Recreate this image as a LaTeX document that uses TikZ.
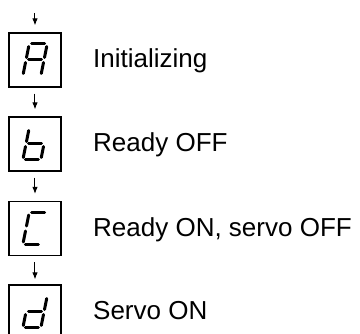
\documentclass[tikz,border=0pt]{standalone}
\usepackage{fontspec}
\setmainfont{Liberation Sans}
\usetikzlibrary{arrows.meta}
\tikzset{
  dispbox/.style={draw, line width=1.2pt, minimum width=52pt, minimum height=54pt, inner sep=0pt},
  arr/.style={line width=1pt, -{Latex[length=7pt,width=5.5pt]}},
  seg/.style={line width=3pt, line cap=round},
  lbl/.style={anchor=base west, inner sep=0pt, font=\fontsize{26}{30}\selectfont}
}
\newcommand{\segA}{\draw[seg] (-6.5,16)--(6.5,16);}
\newcommand{\segB}{\draw[seg] (9,13.5)--(9,2.5);}
\newcommand{\segC}{\draw[seg] (9,-2.5)--(9,-13.5);}
\newcommand{\segD}{\draw[seg] (-6.5,-16)--(6.5,-16);}
\newcommand{\segE}{\draw[seg] (-9,-2.5)--(-9,-13.5);}
\newcommand{\segF}{\draw[seg] (-9,13.5)--(-9,2.5);}
\newcommand{\segG}{\draw[seg] (-6.5,0)--(6.5,0);}
\begin{document}
\begin{tikzpicture}[x=1pt,y=1pt]
\clip (0,0) rectangle (360,334);
\useasboundingbox (0,0) rectangle (360,334);
\node[dispbox] (A) at (35,274) {};
\node[dispbox] (B) at (35,190) {};
\node[dispbox] (C) at (35,105.5) {};
\node[dispbox] (D) at (35,22) {};
\coordinate (top) at (35,321);
\begin{scope}[shift={(A.center)}, xslant=0.2]
\segA\segB\segC\segE\segF\segG
\end{scope}
\begin{scope}[shift={(B.center)}, xslant=0.2]
\segF\segE\segG\segC\segD
\end{scope}
\begin{scope}[shift={(C.center)}, xslant=0.2]
\segA\segF\segE\segD
\end{scope}
\begin{scope}[shift={(D.center)}, xslant=0.2]
\segB\segC\segG\segE\segD
\end{scope}
\draw[arr, shorten >=7pt] (top) -- (A);
\draw[arr, shorten <=6pt, shorten >=7pt] (A) -- (B);
\draw[arr, shorten <=6pt, shorten >=7pt] (B) -- (C);
\draw[arr, shorten <=6pt, shorten >=5pt] (C) -- (D);
\node[lbl] (tA) at (93,266) {Initializing};
\node[lbl] (tB) at (93,182) {Ready OFF};
\node[lbl] (tC) at (93,97.5) {Ready ON, servo OFF};
\node[lbl] (tD) at (93,14) {Servo ON};
\end{tikzpicture}
\end{document}
